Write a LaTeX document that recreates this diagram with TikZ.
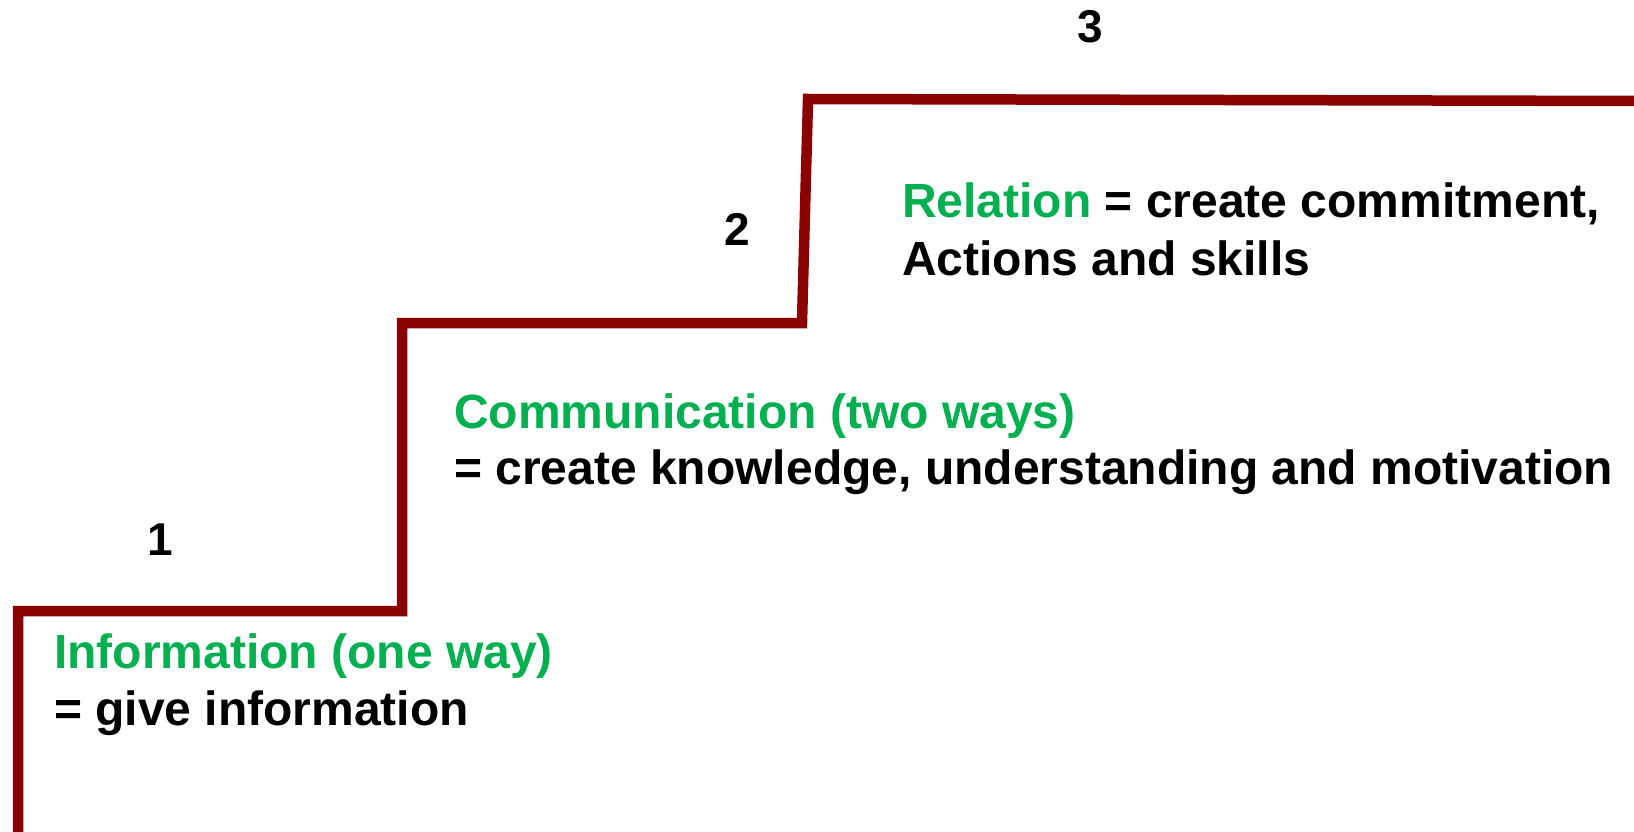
\documentclass[tikz,border=0pt]{standalone}
\usepackage{fontspec}
\setmainfont{Liberation Sans}
\definecolor{stairred}{RGB}{139,0,0}
\definecolor{stepgreen}{RGB}{0,176,80}
\begin{document}
\begin{tikzpicture}[x=1pt,y=-1pt,
  stair/.style={draw=stairred,line width=10.5pt,line join=miter},
  txt/.style={anchor=base west,inner sep=0pt,font=\fontsize{48}{56}\selectfont\bfseries},
  num/.style={anchor=center,inner sep=0pt,font=\fontsize{46}{54}\selectfont\bfseries}]
\useasboundingbox (0,0) rectangle (1634,832);
\coordinate (s0) at (18,840);
\coordinate (s1) at (18,611);
\coordinate (s2) at (402,611);
\coordinate (s3) at (402,323);
\coordinate (s4) at (802,323);
\coordinate (s5) at (808,99);
\coordinate (s6) at (1640,101);
\draw[stair] (s0) -- (s1) -- (s2) -- (s3) -- (s4) -- (s5) -- (s6);
\node[num] (n1) at (160,540) {1};
\node[num] (n2) at (737,229) {2};
\node[num] (n3) at (1090,27) {3};
\node[txt,text=stepgreen] (info1) at (54,668) {Information (one way)};
\node[txt] (info2) at (54,725) {= give information};
\node[txt,text=stepgreen] (comm1) at (454,428) {Communication (two ways)};
\node[txt] (comm2) at (454,484) {= create knowledge, understanding and motivation};
\node[txt] (rel1) at (902,218) {\textcolor{stepgreen}{Relation} = create commitment,};
\node[txt] (rel2) at (902,275) {Actions and skills};
\end{tikzpicture}
\end{document}
